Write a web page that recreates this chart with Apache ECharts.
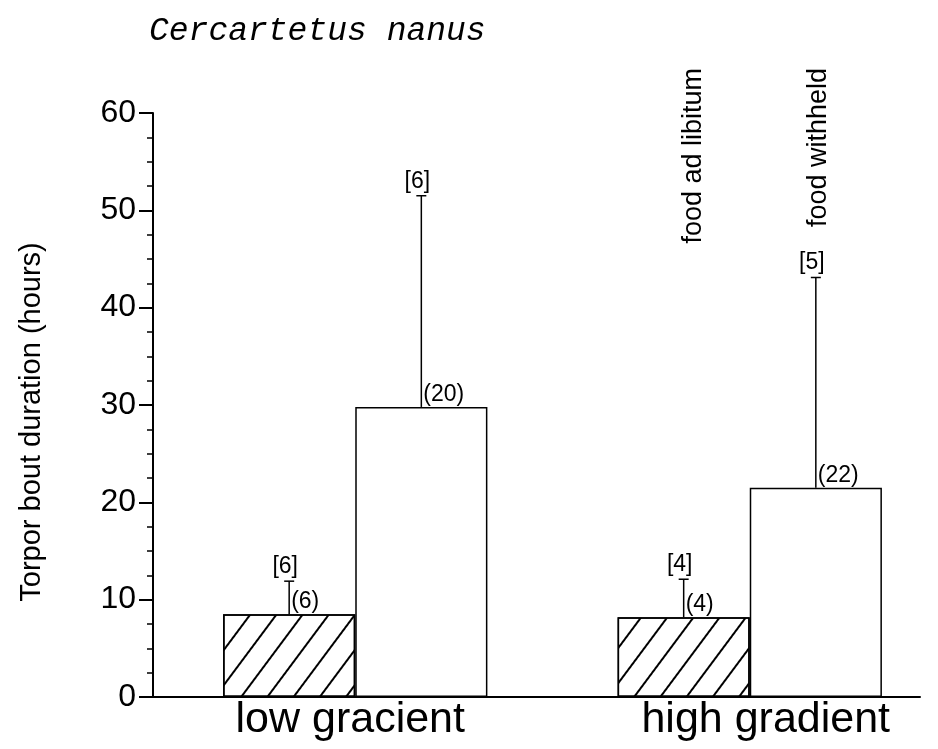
<!DOCTYPE html>
<html>
<head>
<meta charset="utf-8">
<script src="https://cdn.jsdelivr.net/npm/echarts@6/dist/echarts.min.js"></script>
<style>
  html, body { margin: 0; padding: 0; background: #ffffff; }
  #chart { width: 938px; height: 749px; }
</style>
</head>
<body>
<div id="chart"></div>
<script>
// Torpor bout duration of Cercartetus nanus under two thermal gradients
const categories = ['low gracient', 'high gradient'];
const conditionNames = ['food ad libitum', 'food withheld'];

// mean torpor bout duration (hours)
const meanAdLibitum = [8.5, 8.2];
const meanWithheld = [29.8, 21.5];

// upward error (hours)
const errAdLibitum = [3.4, 3.9];
const errWithheld = [21.7, 21.6];

// [n] animals and (n) torpor bouts
const animalsAdLibitum = [6, 4];
const animalsWithheld = [6, 5];
const boutsAdLibitum = [6, 4];
const boutsWithheld = [20, 22];

const yTickValues = [0, 10, 20, 30, 40, 50, 60];

const FONT = '"Liberation Sans", Arial, Helvetica, sans-serif';
const CATEGORY_GAP = 0.33;
const Y_MAX = yTickValues[yTickValues.length - 1];

function rows(means, errs, animals, bouts) {
  return categories.map((c, i) => [i, means[i], errs[i], animals[i], bouts[i]]);
}

// error bar with its [animals] and (bouts) labels; the condition name goes over the last group
function errorRenderer(side, name, nameDx) {
  return function (params, api) {
    const cat = api.value(0);
    const mean = api.value(1);
    const err = api.value(2);
    const band = api.size([1, 0])[0];
    const barW = band * (1 - CATEGORY_GAP) / 2;
    const base = api.coord([cat, mean]);
    const x = base[0] + side * barW / 2;
    const yMean = base[1];
    const yTop = api.coord([cat, mean + err])[1];
    const lbl = '23px ' + FONT;
    const children = [
      { type: 'line', shape: { x1: x, y1: yMean, x2: x, y2: yTop }, style: { stroke: '#000', lineWidth: 1.5 } },
      { type: 'line', shape: { x1: x - 5, y1: yTop, x2: x + 5, y2: yTop }, style: { stroke: '#000', lineWidth: 1.5 } },
      { type: 'text', style: { x: x - 4, y: yTop - 3, text: '[' + api.value(3) + ']', align: 'center', verticalAlign: 'bottom', font: lbl, fill: '#000' } },
      { type: 'text', style: { x: x + 2, y: yMean - 1, text: '(' + api.value(4) + ')', align: 'left', verticalAlign: 'bottom', font: lbl, fill: '#000' } }
    ];
    if (params.dataIndex === categories.length - 1) {
      const yName = api.coord([cat, Y_MAX])[1] - 45;
      children.push({
        type: 'text', x: x + nameDx, y: yName, rotation: Math.PI / 2,
        style: { x: 0, y: 0, text: name, align: 'right', verticalAlign: 'middle', font: '27px ' + FONT, fill: '#000' }
      });
    }
    return { type: 'group', children: children };
  };
}

const chart = echarts.init(document.getElementById('chart'), null, { renderer: 'canvas' });

chart.setOption({
  animation: false,
  backgroundColor: '#ffffff',
  title: {
    text: 'Cercartetus nanus',
    left: 144,
    top: 10,
    textStyle: { fontFamily: '"Liberation Mono", monospace', fontStyle: 'italic', fontWeight: 'normal', fontSize: 33, color: '#000' }
  },
  grid: [
    { left: 158, width: 789, top: 113, bottom: 52, containLabel: false, outerBoundsMode: 'none' },
    { left: 153, right: 18, top: 113, bottom: 52, containLabel: false, outerBoundsMode: 'none' }
  ],
  xAxis: [
    {
      type: 'category',
      gridIndex: 0,
      data: categories,
      axisLine: { show: false },
      axisTick: { show: false },
      axisLabel: {
        interval: 0,
        hideOverlap: false,
        margin: 2,
        color: '#000',
        fontFamily: FONT,
        fontSize: 43,
        formatter: (v, i) => (i === 0 ? '{a|' + v + '}' : '{b|' + v + '}'),
        rich: {
          a: { fontFamily: FONT, fontSize: 43, color: '#000', padding: [0, 10, 0, 0] },
          b: { fontFamily: FONT, fontSize: 43, color: '#000', padding: [0, 0, 0, 32] }
        }
      },
      splitLine: { show: false }
    },
    {
      type: 'value',
      gridIndex: 1,
      min: 0,
      max: 1,
      axisLine: { show: true, onZero: false, lineStyle: { color: '#000', width: 2 } },
      axisTick: { show: false },
      axisLabel: { show: false },
      splitLine: { show: false }
    }
  ],
  yAxis: [
    {
      type: 'value',
      gridIndex: 0,
      min: yTickValues[0],
      max: Y_MAX,
      interval: 10,
      offset: 5,
      name: 'Torpor bout duration (hours)',
      nameLocation: 'middle',
      nameGap: 107,
      nameTextStyle: { color: '#000', fontFamily: FONT, fontSize: 29, padding: [0, 34, 0, 0] },
      axisLine: { show: true, lineStyle: { color: '#000', width: 2 } },
      axisTick: { show: true, length: 14, lineStyle: { color: '#000', width: 2 } },
      minorTick: { show: true, splitNumber: 4, length: 6, lineStyle: { color: '#000', width: 1.5 } },
      axisLabel: { margin: 17, color: '#000', fontFamily: FONT, fontSize: 32 },
      splitLine: { show: false }
    },
    { type: 'value', gridIndex: 1, show: false, min: 0, max: 1 }
  ],
  series: [
    {
      name: conditionNames[0],
      type: 'bar',
      xAxisIndex: 0,
      yAxisIndex: 0,
      data: meanAdLibitum,
      barGap: '0%',
      barCategoryGap: (CATEGORY_GAP * 100) + '%',
      itemStyle: {
        color: '#ffffff',
        borderColor: '#000',
        borderWidth: 1.5,
        decal: {
          symbol: 'rect',
          symbolSize: 1,
          dashArrayX: [1, 0],
          dashArrayY: [2, 19],
          rotation: -0.93,
          color: '#000'
        }
      },
      z: 2
    },
    {
      name: conditionNames[1],
      type: 'bar',
      xAxisIndex: 0,
      yAxisIndex: 0,
      data: meanWithheld,
      barGap: '0%',
      barCategoryGap: (CATEGORY_GAP * 100) + '%',
      itemStyle: { color: '#ffffff', borderColor: '#000', borderWidth: 1.5 },
      z: 2
    },
    {
      type: 'custom',
      xAxisIndex: 0,
      yAxisIndex: 0,
      data: rows(meanAdLibitum, errAdLibitum, animalsAdLibitum, boutsAdLibitum),
      renderItem: errorRenderer(-1, conditionNames[0], 10),
      z: 3
    },
    {
      type: 'custom',
      xAxisIndex: 0,
      yAxisIndex: 0,
      data: rows(meanWithheld, errWithheld, animalsWithheld, boutsWithheld),
      renderItem: errorRenderer(1, conditionNames[1], 3),
      z: 3
    }
  ]
});
</script>
</body>
</html>
